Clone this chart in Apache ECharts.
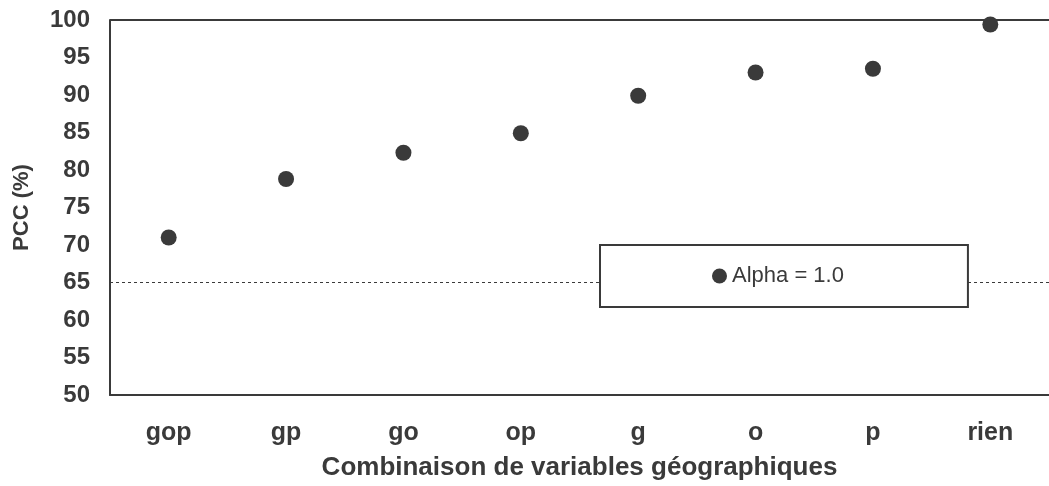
<!DOCTYPE html>
<html><head><meta charset="utf-8">
<script src="https://cdn.jsdelivr.net/npm/echarts@6/dist/echarts.min.js"></script>
<style>html,body{margin:0;padding:0;background:#fff}#c{width:1049px;height:486px}</style>
</head><body><div id="c"></div>
<script>
const categories = ['gop','gp','go','op','g','o','p','rien'];
const pccValues = [71.0, 78.8, 82.3, 84.9, 89.9, 93.0, 93.5, 99.4];
const seriesName = 'Alpha = 1.0';
const refLine = 65;
const yTicks = {min: 50, max: 100, interval: 5};

const chart = echarts.init(document.getElementById('c'));
const dark = '#3a3a3a';
const font = '"Liberation Sans", Arial, sans-serif';
chart.setOption({
  backgroundColor: '#fff',
  animation: false,
  textStyle: {fontFamily: font},
  grid: {left: 110, top: 20, width: 945, height: 376, show: false},
  legend: {
    data: [seriesName],
    left: 600, top: 245,
    padding: [20, 124, 20, 112],
    borderColor: dark, borderWidth: 2,
    backgroundColor: '#fff',
    itemWidth: 15, itemHeight: 15, itemGap: 5,
    textStyle: {fontSize: 22, color: dark, fontFamily: font},
    z: 10
  },
  xAxis: {
    type: 'category', data: categories, boundaryGap: true,
    name: 'Combinaison de variables géographiques',
    nameLocation: 'middle', nameGap: 60,
    nameTextStyle: {fontSize: 26, fontWeight: 'bold', color: dark, fontFamily: font},
    axisLine: {lineStyle: {color: dark, width: 2}},
    axisTick: {show: false},
    axisLabel: {fontSize: 25, fontWeight: 'bold', color: dark, margin: 26, fontFamily: font},
    splitLine: {show: false}
  },
  yAxis: {
    type: 'value', min: yTicks.min, max: yTicks.max, interval: yTicks.interval,
    name: 'PCC (%)', nameLocation: 'middle', nameGap: 77, nameRotate: 90,
    nameTextStyle: {fontSize: 22, fontWeight: 'bold', color: dark, fontFamily: font},
    axisLine: {show: true, lineStyle: {color: dark, width: 2}},
    axisTick: {show: false},
    axisLabel: {fontSize: 24, fontWeight: 'bold', color: dark, margin: 20, fontFamily: font},
    splitLine: {show: false}
  },
  series: [{
    name: seriesName, type: 'scatter', data: pccValues,
    symbol: 'circle', symbolSize: 16,
    itemStyle: {color: dark, opacity: 1},
    markLine: {
      silent: true, symbol: ['none','none'],
      label: {show: false},
      lineStyle: {color: dark, width: 1, type: [3, 3]},
      data: [{yAxis: refLine}]
    }
  }, {
    type: 'line', data: [], markLine: {
      silent: true, symbol: ['none','none'], label: {show: false},
      lineStyle: {color: dark, width: 2, type: 'solid'},
      data: [{yAxis: yTicks.max}]
    }
  }]
});
</script></body></html>
